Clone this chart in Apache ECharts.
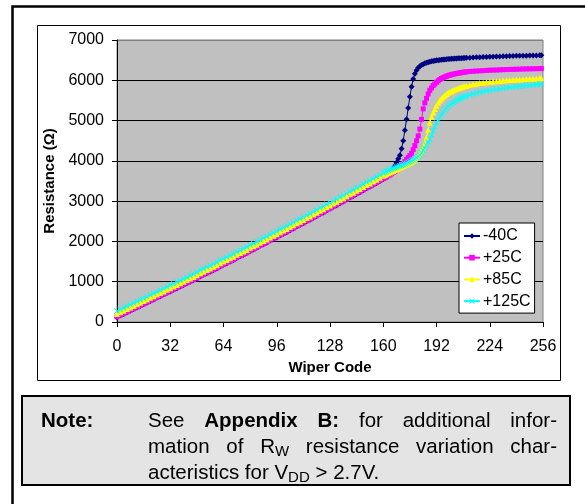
<!DOCTYPE html>
<html>
<head>
<meta charset="utf-8">
<script src="https://cdn.jsdelivr.net/npm/echarts@6/dist/echarts.min.js"></script>
<style>
html,body{margin:0;padding:0;background:#fff;}
#c{width:585px;height:504px;}
</style>
</head>
<body>
<div id="c"></div>
<script>
// Wiper codes (x values)
const codes = [
0,2,4,6,8,10,12,14,16,18,20,22,24,26,28,30,32,34,36,38,40,42,44,46,48,50,52,54,56,58,60,62,64,66,68,70,72,74,76,78,
80,82,84,86,88,90,92,94,96,98,100,102,104,106,108,110,112,114,116,118,120,122,124,126,128,130,132,134,136,138,140,142,144,146,148,150,152,154,156,158,160,
161,162,163,164,165,166,167,168,169,170,171,172,173,174,175,176,177,178,179,180,181,182,183,184,185,186,187,188,189,190,
191,192,193,194,195,196,197,198,199,200,201,202,203,204,205,206,207,208,209,210,
212,214,216,218,220,222,224,226,228,230,232,234,236,238,240,242,244,246,248,250,252,254,255
];
const seriesNames = ['-40C', '+25C', '+85C', '+125C'];
const res_m40 = [
120,160,200,240,280,320,360,400,440,480,520,560,600,640,680,720,760,800,840,880,
920,960,1000,1040,1080,1130,1170,1210,1250,1290,1330,1380,1420,1460,1500,1540,1590,1630,1670,1710,
1760,1800,1840,1890,1930,1970,2020,2060,2100,2150,2190,2230,2280,2320,2370,2410,2450,2500,2540,2590,
2630,2680,2720,2770,2810,2860,2900,2950,2990,3040,3090,3130,3180,3220,3270,3320,3360,3410,3450,3500,3550,
3570,3600,3630,3670,3730,3800,3880,3960,4050,4140,4300,4500,4760,5030,5310,5590,5840,6030,6160,6250,
6310,6350,6380,6400,6420,6435,6450,6462,6472,6480,6488,6495,6500,6505,6510,6515,6519,6523,6527,6530,
6533,6536,6539,6542,6545,6548,6550,6552,6555,6557,
6561,6565,6569,6573,6577,6580,6584,6587,6590,6593,6596,6599,6601,6604,6606,6608,6610,6612,6614,6616,6618,6620,6620
];
const res_p25 = [
130,170,210,250,290,330,370,410,450,490,530,570,610,650,690,730,770,810,850,890,
930,970,1010,1050,1090,1140,1180,1220,1260,1300,1340,1390,1430,1470,1510,1550,1600,1640,1680,1720,
1770,1810,1850,1900,1940,1980,2030,2070,2110,2160,2200,2240,2290,2330,2380,2420,2460,2510,2550,2600,
2640,2690,2730,2780,2820,2870,2910,2960,3000,3050,3100,3140,3190,3230,3280,3330,3370,3420,3460,3510,3560,
3580,3600,3630,3650,3680,3710,3740,3780,3810,3850,3890,3930,3980,4030,4080,4130,4190,4280,4380,4500,
4620,4790,5030,5290,5440,5550,5660,5750,5810,5870,5910,5950,5985,6020,6045,6065,6085,6100,6115,6130,
6140,6150,6160,6170,6175,6185,6190,6200,6205,6210,
6220,6225,6230,6235,6240,6245,6250,6253,6256,6260,6263,6266,6269,6272,6275,6277,6280,6282,6284,6286,6288,6290,6290
];
const res_p85 = [
200,240,280,320,360,400,440,480,520,560,600,640,680,720,760,800,840,880,920,960,
1000,1040,1080,1120,1160,1210,1250,1290,1330,1370,1410,1460,1500,1540,1580,1620,1670,1710,1750,1790,
1840,1880,1920,1970,2010,2050,2100,2140,2180,2230,2270,2310,2360,2400,2450,2490,2530,2580,2620,2670,
2710,2760,2800,2850,2890,2940,2980,3030,3070,3120,3170,3210,3260,3300,3350,3400,3440,3490,3530,3580,3630,
3650,3670,3690,3710,3730,3750,3770,3790,3810,3830,3850,3870,3890,3910,3930,3950,3975,4000,4040,4080,
4130,4190,4260,4340,4440,4580,4760,4950,5090,5200,5290,5370,5440,5500,5550,5590,5630,5660,5690,5710,
5730,5750,5770,5785,5800,5815,5830,5845,5855,5865,
5885,5900,5915,5930,5940,5950,5960,5970,5978,5985,5992,5999,6005,6011,6017,6022,6027,6032,6037,6041,6045,6049,6050
];
const res_p125 = [
270,310,350,390,430,470,510,550,590,630,670,710,750,790,830,870,910,950,990,1030,
1070,1110,1150,1190,1230,1280,1320,1360,1400,1440,1480,1530,1570,1610,1650,1690,1740,1780,1820,1860,
1910,1950,1990,2040,2080,2120,2170,2210,2250,2300,2340,2380,2430,2470,2520,2560,2600,2650,2690,2740,
2780,2830,2870,2920,2960,3010,3050,3100,3140,3190,3240,3280,3330,3370,3420,3470,3510,3560,3600,3650,3700,
3720,3740,3760,3780,3800,3815,3830,3845,3860,3875,3890,3905,3920,3940,3960,3980,4000,4025,4050,4080,
4110,4150,4200,4260,4320,4390,4460,4540,4640,4750,4850,4940,5020,5090,5150,5210,5260,5310,5350,5390,
5420,5450,5475,5500,5525,5545,5565,5585,5600,5615,
5640,5665,5685,5705,5720,5735,5750,5765,5778,5790,5802,5813,5823,5833,5842,5851,5860,5868,5876,5884,5892,5900,5905
];
const xTicks = [0, 32, 64, 96, 128, 160, 192, 224, 256];
const yTicks = [0, 1000, 2000, 3000, 4000, 5000, 6000, 7000];
const xTitle = 'Wiper Code';
const yTitle = 'Resistance (\u03A9)';

const FAM = '"Liberation Sans", Arial, Helvetica, sans-serif';
const colors = ['#000080', '#FF00FF', '#FFFF00', '#00FFFF'];
const symbols = ['diamond', 'rect', 'triangle',
  'path://M0,1L1,0L5,4L9,0L10,1L6,5L10,9L9,10L5,6L1,10L0,9L4,5Z'];
const symSizes = [6, 5, 6, 6];
const allVals = [res_m40, res_p25, res_p85, res_p125];

// --- note text layout (justified lines) ---
const noteLines = [
  {justify: true, words: [[{t:'See'}], [{t:'Appendix', b:1}], [{t:'B:', b:1}], [{t:'for'}], [{t:'additional'}], [{t:'infor-'}]]},
  {justify: true, words: [[{t:'mation'}], [{t:'of'}], [{t:'R'}, {t:'W', s:1}], [{t:'resistance'}], [{t:'variation'}], [{t:'char-'}]]},
  {justify: false, words: [[{t:'acteristics'}], [{t:'for'}], [{t:'V'}, {t:'DD', s:1}], [{t:'>'}], [{t:'2.7V.'}]]}
];
const FS = 20.5, SUBFS = 15;
const measCtx = document.createElement('canvas').getContext('2d');
function runFont(r){ return (r.b ? 'bold ' : '') + (r.s ? SUBFS : FS) + 'px ' + FAM; }
function runW(r){ measCtx.font = runFont(r); return measCtx.measureText(r.t).width; }
function buildNote(x0, x1, yCenters) {
  const els = [];
  measCtx.font = FS + 'px ' + FAM;
  const spaceW = measCtx.measureText(' ').width;
  noteLines.forEach((line, li) => {
    const ww = line.words.map(wd => wd.reduce((s, r) => s + runW(r), 0));
    const total = ww.reduce((a, b) => a + b, 0);
    const gap = line.justify ? (x1 - x0 - total) / (line.words.length - 1) : spaceW;
    let x = x0;
    line.words.forEach((wd, wi) => {
      wd.forEach(r => {
        els.push({type: 'text', x: x, y: yCenters[li] + (r.s ? 5 : 0), z: 100,
          style: {text: r.t, font: runFont(r), fill: '#000', align: 'left', verticalAlign: 'middle',
                  textAlign: 'left', textVerticalAlign: 'middle'}});
        x += runW(r);
      });
      x += gap;
    });
  });
  return els;
}

const chart = echarts.init(document.getElementById('c'), null, {renderer: 'canvas'});
const graphics = [
  {type: 'rect', z: -10, shape: {x: 12.5, y: 6.5, width: 620, height: 540}, style: {fill: 'none', stroke: '#000', lineWidth: 2.5}},
  {type: 'rect', z: -9, shape: {x: 37.5, y: 25.5, width: 523, height: 355}, style: {fill: '#fff', stroke: '#000', lineWidth: 1}},
  {type: 'rect', z: 50, shape: {x: 22, y: 396, width: 548, height: 89}, style: {fill: '#E4E4E4', stroke: '#000', lineWidth: 2}},
  {type: 'text', x: 41, y: 421, z: 100, style: {text: 'Note:', font: 'bold ' + FS + 'px ' + FAM, fill: '#000',
    align: 'left', verticalAlign: 'middle', textAlign: 'left', textVerticalAlign: 'middle'}}
].concat(buildNote(148, 557, [421, 447, 473]));

const option = {
  animation: false,
  backgroundColor: '#fff',
  textStyle: {fontFamily: FAM},
  graphic: graphics,
  grid: {left: 117, top: 40, width: 426, height: 282, show: true, backgroundColor: '#C0C0C0',
         borderColor: '#808080', borderWidth: 1, containLabel: false},
  legend: {
    orient: 'vertical', left: 459, top: 223,
    padding: [5, 4, 4, 4], itemGap: 5.7, itemWidth: 16, itemHeight: 7,
    backgroundColor: '#fff', borderColor: '#000', borderWidth: 1,
    textStyle: {fontSize: 16, color: '#000', fontFamily: FAM, padding: [0, 0, 0, -2]},
    data: seriesNames
  },
  xAxis: {
    type: 'value', min: xTicks[0], max: xTicks[xTicks.length - 1], interval: 32,
    name: xTitle, nameLocation: 'middle', nameGap: 38,
    nameTextStyle: {fontSize: 15, fontWeight: 'bold', color: '#000', fontFamily: FAM},
    axisLine: {show: true, onZero: false, lineStyle: {color: '#000', width: 1}},
    axisTick: {show: true, length: 5, inside: false, lineStyle: {color: '#000'}},
    axisLabel: {fontSize: 16, color: '#000', margin: 17, fontFamily: FAM},
    splitLine: {show: false}
  },
  yAxis: {
    type: 'value', min: yTicks[0], max: yTicks[yTicks.length - 1], interval: 1000,
    name: yTitle, nameLocation: 'middle', nameGap: 47, nameRotate: 90,
    nameTextStyle: {fontSize: 15, fontWeight: 'bold', color: '#000', fontFamily: FAM},
    axisLine: {show: true, lineStyle: {color: '#000', width: 1}},
    axisTick: {show: true, length: 5, inside: false, lineStyle: {color: '#000'}},
    axisLabel: {fontSize: 16, color: '#000', margin: 13, fontFamily: FAM, formatter: v => String(v)},
    splitLine: {show: true, lineStyle: {color: ['#000', '#000', '#000', '#000', '#000', '#000', '#000', '#808080'], width: 1}}
  },
  series: seriesNames.map((nm, k) => ({
    name: nm, type: 'line',
    data: codes.map((c, i) => [c, allVals[k][i]]),
    symbol: symbols[k], symbolSize: symSizes[k], showSymbol: true, showAllSymbol: true,
    itemStyle: {color: colors[k], borderWidth: 0},
    lineStyle: {color: colors[k], width: 1},
    z: 2 + k, clip: false
  }))
};
chart.setOption(option);
</script>
</body>
</html>
